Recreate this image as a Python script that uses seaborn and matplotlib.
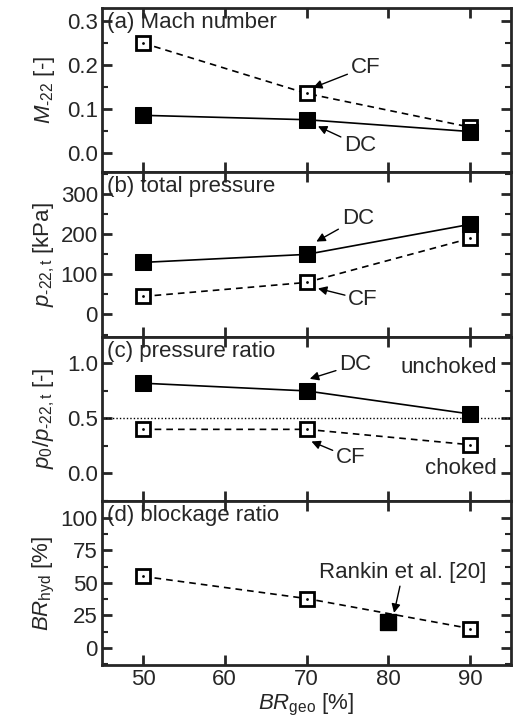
import numpy as np
import pandas as pd
import seaborn as sns
import matplotlib.pyplot as plt
import matplotlib.ticker as mtick

# data
br_geo = [50, 70, 90]
mach_dc = [0.085, 0.075, 0.048]
mach_cf = [0.250, 0.135, 0.058]
p_dc = [130, 150, 225]
p_cf = [45, 80, 190]
ratio_dc = [0.82, 0.75, 0.54]
ratio_cf = [0.40, 0.40, 0.26]
br_hyd_cf = [55, 38, 15]
rankin_x = [80]
rankin_y = [20]

sns.set_style('ticks')
plt.rcParams['font.family'] = ['Liberation Sans', 'DejaVu Sans']
plt.rcParams['mathtext.fontset'] = 'custom'
plt.rcParams['mathtext.rm'] = 'Liberation Sans'
plt.rcParams['mathtext.it'] = 'Liberation Sans:italic'
fs = 16
plt.rcParams['font.size'] = fs

fig, axes = plt.subplots(4, 1, figsize=(5.13, 7.28), dpi=100, sharex=True)
fig.subplots_adjust(left=0.199, right=0.996, top=0.989, bottom=0.0865, hspace=0)


def draw(ax, y_dc, y_cf):
    df = pd.DataFrame({'x': br_geo, 'dc': y_dc, 'cf': y_cf})
    sns.lineplot(data=df, x='x', y='cf', ax=ax, color='black', lw=1.2,
                 linestyle=(0, (4, 3)), marker='s', markersize=9.5,
                 markerfacecolor='white', markeredgecolor='black',
                 markeredgewidth=2, zorder=3)
    sns.scatterplot(data=df, x='x', y='cf', ax=ax, color='black', s=4,
                    linewidth=0, zorder=4)
    if y_dc is not None:
        sns.lineplot(data=df, x='x', y='dc', ax=ax, color='black', lw=1.2,
                     marker='s', markersize=11, markerfacecolor='black',
                     markeredgecolor='black', zorder=5)


draw(axes[0], mach_dc, mach_cf)
draw(axes[1], p_dc, p_cf)
draw(axes[2], ratio_dc, ratio_cf)
draw(axes[3], None, br_hyd_cf)
rk = pd.DataFrame({'x': rankin_x, 'y': rankin_y})
sns.scatterplot(data=rk, x='x', y='y', ax=axes[3], marker='s', s=12 ** 2,
                color='black', edgecolor='black', zorder=6)
axes[2].axhline(0.5, color='black', lw=1, linestyle=(0, (1, 1.5)), zorder=1)

# hyphen instead of mathtext minus in the subscripts
hy = '\u2010'
limits = [(-0.045, 0.33), (-55, 355), (-0.25, 1.245), (-13, 113)]
majors = [0.1, 100, 0.5, 25]
ylabels = [r'$M_{\mathregular{' + hy + r'22}}$ [-]',
           r'$p_{\mathregular{' + hy + r'22,t}}$ [kPa]',
           r'$p_{\mathregular{0}}/p_{\mathregular{' + hy + r'22,t}}$ [-]',
           r'$BR_{\mathregular{hyd}}$ [%]']
titles = ['(a) Mach number', '(b) total pressure', '(c) pressure ratio',
          '(d) blockage ratio']
fmts = ['{x:.1f}', '{x:.0f}', '{x:.1f}', '{x:.0f}']

for ax, lim, mj, yl, tt, fm in zip(axes, limits, majors, ylabels, titles, fmts):
    ax.set_xlim(45, 95)
    ax.set_ylim(*lim)
    ax.yaxis.set_major_locator(mtick.MultipleLocator(mj))
    ax.yaxis.set_minor_locator(mtick.AutoMinorLocator(2))
    ax.yaxis.set_major_formatter(mtick.StrMethodFormatter(fm))
    ax.xaxis.set_major_locator(mtick.MultipleLocator(10))
    ax.tick_params(which='major', direction='in', length=7, width=2,
                   top=True, right=True, labelsize=fs, pad=3)
    ax.tick_params(which='minor', direction='in', length=4, width=1.5,
                   top=False, right=True)
    for s in ax.spines.values():
        s.set_linewidth(2)
    ax.set_ylabel(yl, fontsize=fs, labelpad=3)
    ax.set_xlabel('')
    ax.text(0.012, 0.975, tt, transform=ax.transAxes, fontsize=fs,
            va='top', ha='left')

fig.align_ylabels(axes)
axes[3].set_xlabel(r'$BR_{\mathregular{geo}}$ [%]', fontsize=fs, labelpad=1)

arrow = dict(arrowstyle='-|>', color='black', lw=1, mutation_scale=13,
             shrinkA=0, shrinkB=0)
axes[0].annotate('CF', xy=(70.8, 0.148), xytext=(75.4, 0.195), fontsize=fs,
                 va='center', arrowprops=arrow)
axes[0].annotate('DC', xy=(71.4, 0.06), xytext=(74.6, 0.015), fontsize=fs,
                 va='center', arrowprops=arrow)
axes[1].annotate('DC', xy=(71.2, 182), xytext=(74.3, 240), fontsize=fs,
                 va='center', arrowprops=arrow)
axes[1].annotate('CF', xy=(71.4, 65), xytext=(75.1, 37), fontsize=fs,
                 va='center', arrowprops=arrow)
axes[2].annotate('DC', xy=(70.4, 0.86), xytext=(74.0, 0.99), fontsize=fs,
                 va='center', arrowprops=arrow)
axes[2].annotate('CF', xy=(70.6, 0.29), xytext=(73.6, 0.14), fontsize=fs,
                 va='center', arrowprops=arrow)
axes[2].text(93.3, 0.96, 'unchoked', fontsize=fs, ha='right', va='center')
axes[2].text(93.3, 0.04, 'choked', fontsize=fs, ha='right', va='center')
axes[3].annotate('Rankin et al. [20]', xy=(80.7, 27), xytext=(81.8, 50),
                 fontsize=fs, ha='center', va='bottom', arrowprops=arrow)

fig.savefig('out.png', dpi=100)
